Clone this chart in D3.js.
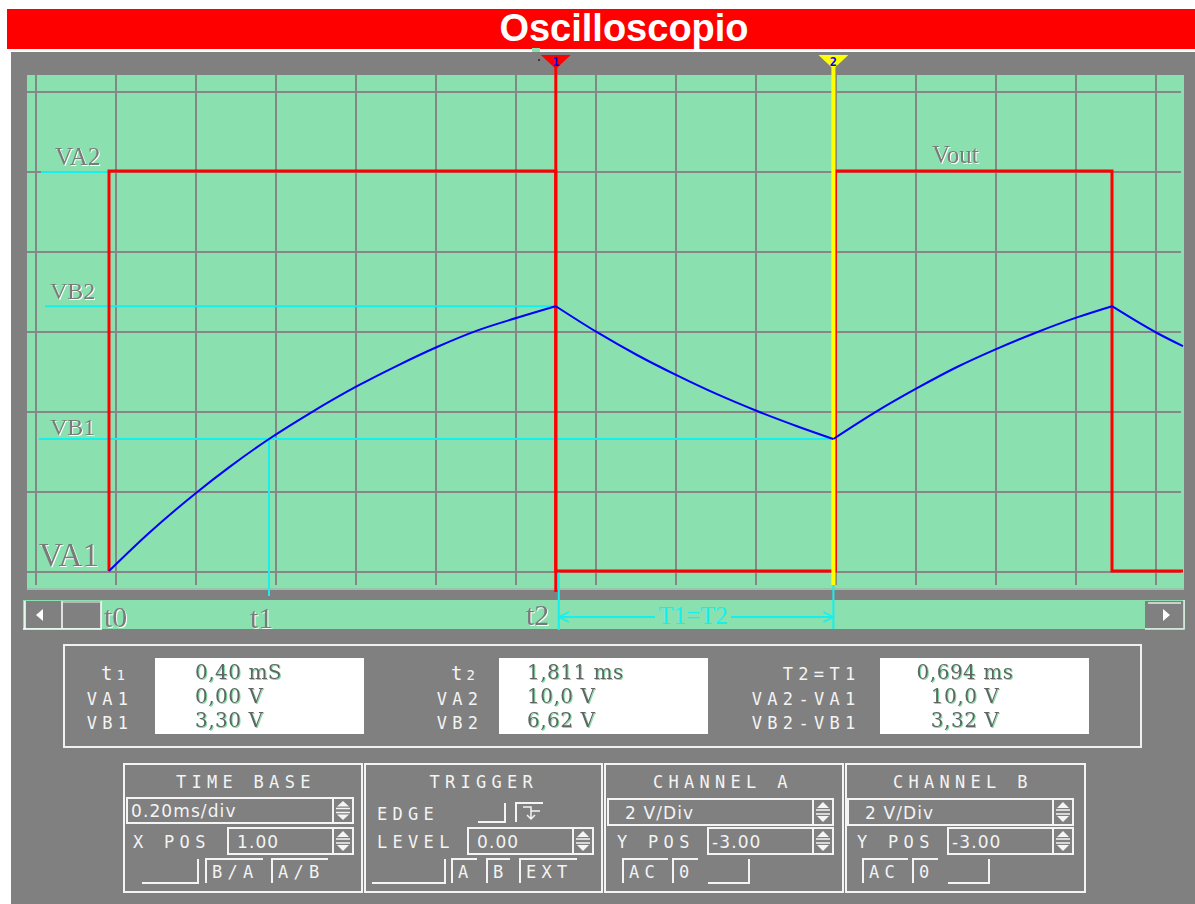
<!DOCTYPE html>
<html>
<head>
<meta charset="utf-8">
<script src="https://cdn.jsdelivr.net/npm/d3@7"></script>
<style>
  html, body { margin: 0; padding: 0; background: #ffffff; }
  svg { display: block; }
</style>
</head>
<body>
<svg id="scope" width="1195" height="904"></svg>
<script>
// ---------- measured quantities ----------
const cursorT1 = 0.40;      // ms, cursor t1
const cursorT2 = 1.811;     // ms, cursor 2 (yellow)
const halfPeriod = 0.694;   // ms, T1 = T2
const levelVA1 = 0.00, levelVA2 = 10.0;   // V, channel A levels
const levelVB1 = 3.30, levelVB2 = 6.62;   // V, channel B turning points

// Channel B (capacitor voltage) – time [ms] and volts
const chBTime = [0, 0.10, 0.22, 0.30, 0.40, 0.50, 0.62, 0.72, 0.82, 0.92, 1.02, 1.117,
                 1.22, 1.32, 1.42, 1.52, 1.62, 1.72, 1.811,
                 1.919, 2.02, 2.12, 2.225, 2.32, 2.42, 2.5075,
                 2.62, 2.685];
const chBVolt = [0, 0.95, 1.97, 2.59, 3.30, 3.93, 4.62, 5.13, 5.60, 6.01, 6.33, 6.62,
                 5.97, 5.40, 4.89, 4.42, 4.00, 3.62, 3.30,
                 3.99, 4.57, 5.10, 5.58, 5.97, 6.34, 6.62,
                 5.95, 5.62];

// Channel A (Vout square wave) – step points, time [ms] and volts
const chATime = [0, 0, 1.117, 1.816, 2.5075, 2.685];
const chAVolt = [0, 10, 0, 10, 0, 0];

// Readout panel
const readLabels1 = ["VA1", "VB1"], readValues1 = ["0,40 mS", "0,00 V", "3,30 V"];
const readLabels2 = ["VA2", "VB2"], readValues2 = ["1,811 ms", "10,0 V", "6,62 V"];
const readLabels3 = ["T2=T1", "VA2-VA1", "VB2-VB1"], readValues3 = ["0,694 ms", "10,0 V", "3,32 V"];

// Control panel settings
const timeBase = "0.20ms/div", xPos = "1.00", trigLevel = "0.00";
const chAScale = "2 V/Div", chAPos = "-3.00";
const chBScale = "2 V/Div", chBPos = "-3.00";

// ---------- colours ----------
const GREEN = "#8ae0ae", GRAY = "#808080", GRID = "#878787";
const RED = "#ff0000", BLUE = "#0000ff", CYAN = "#14f0f0", YELLOW = "#ffff00";
const LABEL = "#7a7a7a";

const svg = d3.select("#scope");

// text effects: white emboss for screen labels, green rim for readout values
const defs = svg.append("defs");
function shadowFilter(id, color, dx, dy) {
  const f = defs.append("filter").attr("id", id).attr("x", "-10%").attr("y", "-20%")
    .attr("width", "130%").attr("height", "150%");
  f.append("feOffset").attr("in", "SourceAlpha").attr("dx", dx).attr("dy", dy).attr("result", "off");
  f.append("feFlood").attr("flood-color", color).attr("result", "col");
  f.append("feComposite").attr("in", "col").attr("in2", "off").attr("operator", "in").attr("result", "sh");
  const m = f.append("feMerge");
  m.append("feMergeNode").attr("in", "sh");
  m.append("feMergeNode").attr("in", "SourceGraphic");
}
shadowFilter("embossWhite", "#ffffff", 1, 1);
shadowFilter("rimGreen", "#7fe0a8", 1.2, 1);

// ---------- scales: 0.2 ms/div and 2 V/div, 80 px per division ----------
const x = d3.scaleLinear().domain([0, 1]).range([109, 509]);
const y = d3.scaleLinear().domain([0, 10]).range([571, 171]);
const gridTimes = d3.range(15).map(k => -0.1825 + 0.2 * k);
const gridVolts = d3.range(0, 13, 2);

// ---------- frame ----------
svg.append("rect").attr("x", 7).attr("y", 9).attr("width", 1188).attr("height", 40).attr("fill", RED);
svg.append("text").attr("x", 624).attr("y", 41).attr("text-anchor", "middle")
  .attr("font-family", "Liberation Sans, Arial, sans-serif").attr("font-weight", "bold")
  .attr("font-size", 38).attr("fill", "#ffffff").text("Oscilloscopio");

svg.append("rect").attr("x", 11).attr("y", 52).attr("width", 1184).attr("height", 852).attr("fill", GRAY);

// screen
svg.append("rect").attr("x", 27).attr("y", 75).attr("width", 1157).attr("height", 515).attr("fill", GREEN);

const grid = svg.append("g").attr("stroke", GRID).attr("stroke-width", 2);
grid.selectAll("line.v").data(gridTimes).join("line").attr("class", "v")
  .attr("x1", d => x(d)).attr("x2", d => x(d)).attr("y1", 75).attr("y2", 585);
grid.selectAll("line.h").data(gridVolts).join("line").attr("class", "h")
  .attr("x1", 27).attr("x2", 1181).attr("y1", d => y(d) + 1).attr("y2", d => y(d) + 1);
svg.append("line").attr("x1", 27).attr("x2", 1184).attr("y1", 589).attr("y2", 589)
  .attr("stroke", "#a8a8a8").attr("stroke-width", 1);

// ---------- scroll strip ----------
svg.append("rect").attr("x", 23).attr("y", 600).attr("width", 1162).attr("height", 29).attr("fill", GREEN);
svg.append("rect").attr("x", 25).attr("y", 601).attr("width", 76).attr("height", 27).attr("fill", GRAY);
svg.append("rect").attr("x", 1145).attr("y", 601).attr("width", 39).attr("height", 27).attr("fill", GRAY);
const sb = svg.append("g").attr("stroke", "#ffffff").attr("stroke-width", 1.5).attr("fill", "none");
sb.append("path").attr("d", "M23,629H102M62,601V629M101,601V629M25,601V629");
sb.append("path").attr("d", "M63,602H100").attr("stroke", "#c8c8c8");
sb.append("path").attr("d", "M1145,629H1184V600M1148,603H1181").attr("stroke", "#e8e8e8");
svg.append("path").attr("d", "M36,615L43,609V621Z").attr("fill", "#ffffff");
svg.append("path").attr("d", "M1170,615L1163,609V621Z").attr("fill", "#ffffff");

// ---------- embossed screen labels ----------
function emboss(xp, yp, str, size, color) {
  svg.append("text").attr("x", xp).attr("y", yp)
    .attr("font-family", "Liberation Serif, Times New Roman, serif").attr("font-size", size)
    .attr("fill", color || LABEL).attr("filter", "url(#embossWhite)").text(str);
}

// ---------- cursor reference lines ----------
const cur1 = cursorT2 - halfPeriod;
const cy = svg.append("g").attr("stroke", CYAN).attr("stroke-width", 2).attr("fill", "none");
cy.append("line").attr("x1", 41).attr("x2", x(0) - 1).attr("y1", y(levelVA2) + 1).attr("y2", y(levelVA2) + 1);
cy.append("line").attr("x1", 45).attr("x2", x(cur1)).attr("y1", y(levelVB2)).attr("y2", y(levelVB2));
cy.append("line").attr("x1", 39).attr("x2", x(cursorT2)).attr("y1", y(levelVB1)).attr("y2", y(levelVB1));
cy.append("line").attr("x1", x(cursorT1)).attr("x2", x(cursorT1)).attr("y1", y(levelVB1)).attr("y2", 596);
cy.append("line").attr("x1", x(cur1) + 3).attr("x2", x(cur1) + 3).attr("y1", y(levelVA1)).attr("y2", 630);
cy.append("line").attr("x1", x(cursorT2)).attr("x2", x(cursorT2)).attr("y1", 585).attr("y2", 629);

// T1=T2 dimension arrow
const ay = 617, ax1 = x(cur1) + 3, ax2 = x(cursorT2);
cy.append("path").attr("d", `M${ax1},${ay}H655M731,${ay}H${ax2}`);
cy.append("path").attr("d", `M${ax1 + 10},${ay - 5}L${ax1},${ay}L${ax1 + 10},${ay + 5}`).attr("stroke-width", 1.5);
cy.append("path").attr("d", `M${ax2 - 10},${ay - 5}L${ax2},${ay}L${ax2 - 10},${ay + 5}`).attr("stroke-width", 1.5);
svg.append("text").attr("x", 693).attr("y", 624).attr("text-anchor", "middle")
  .attr("font-family", "Liberation Serif, Times New Roman, serif").attr("font-size", 25)
  .attr("fill", CYAN).text("T1=T2");

emboss(55, 165, "VA2", 25);
emboss(50, 299, "VB2", 24);
emboss(50, 435, "VB1", 24);
emboss(39, 566, "VA1", 33);
emboss(932, 163, "Vout", 25);
emboss(104, 627, "t0", 30);
emboss(250, 628, "t1", 30);
emboss(526, 625, "t2", 30);

// ---------- traces ----------
const lineA = d3.line().x(d => x(d[0])).y(d => y(d[1])).curve(d3.curveStepAfter);
svg.append("path").datum(chATime.map((t, i) => [t, chAVolt[i]]))
  .attr("d", lineA).attr("fill", "none").attr("stroke", RED).attr("stroke-width", 3);

// cursor lines
svg.append("line").attr("x1", x(cur1)).attr("x2", x(cur1)).attr("y1", 62).attr("y2", 592)
  .attr("stroke", RED).attr("stroke-width", 3);
svg.append("line").attr("x1", x(cursorT2)).attr("x2", x(cursorT2)).attr("y1", 62).attr("y2", 585)
  .attr("stroke", YELLOW).attr("stroke-width", 4);

// channel B split into charge / discharge branches so the turning points stay sharp
const ptsB = chBTime.map((t, i) => [t, chBVolt[i]]);
const branches = [];
let cur = [ptsB[0]], dir = 0;
for (let i = 1; i < ptsB.length; i++) {
  const d = Math.sign(ptsB[i][1] - ptsB[i - 1][1]);
  if (dir !== 0 && d !== dir) { branches.push(cur); cur = [ptsB[i - 1]]; }
  cur.push(ptsB[i]); dir = d;
}
branches.push(cur);
const lineB = d3.line().x(d => x(d[0])).y(d => y(d[1])).curve(d3.curveMonotoneX);
svg.append("g").selectAll("path").data(branches).join("path")
  .attr("d", lineB).attr("fill", "none").attr("stroke", BLUE).attr("stroke-width", 2);

// cursor flags
function flag(t, color, label) {
  const cx = x(t);
  svg.append("path").attr("d", `M${cx - 15},55H${cx + 15}L${cx},69Z`).attr("fill", color);
  svg.append("text").attr("x", cx).attr("y", 66).attr("text-anchor", "middle")
    .attr("font-family", "DejaVu Sans Mono, monospace").attr("font-weight", "bold")
    .attr("font-size", 12).attr("fill", BLUE).text(label);
}
flag(cur1, RED, "1");
flag(cursorT2, YELLOW, "2");
svg.append("rect").attr("x", 532).attr("y", 48).attr("width", 8).attr("height", 4).attr("fill", GREEN);
svg.append("circle").attr("cx", 539).attr("cy", 60).attr("r", 1).attr("fill", "#222");

// ---------- readout panel ----------
svg.append("rect").attr("x", 64).attr("y", 645).attr("width", 1077).attr("height", 102)
  .attr("fill", "none").attr("stroke", "#f0f0f0").attr("stroke-width", 2);
const boxes = [155, 499, 880];
svg.selectAll("rect.val").data(boxes).join("rect").attr("class", "val")
  .attr("x", d => d).attr("y", 658).attr("width", 209).attr("height", 76).attr("fill", "#ffffff");

const STEP = 15.5;
function mono(xp, yp, str, size) {
  return svg.append("text").attr("x", xp).attr("y", yp)
    .attr("font-family", "DejaVu Sans Mono, monospace").attr("font-size", size || 17)
    .attr("letter-spacing", 5.3).attr("fill", "#f4f4f4").text(str);
}
function monoRight(right, yp, str) { return mono(right - str.length * STEP + 5.3, yp, str); }

const rowY = [680, 705, 729];
function tLabel(right, digit) {
  const t = svg.append("text").attr("y", rowY[0]).attr("x", right - 27)
    .attr("font-family", "DejaVu Sans Mono, monospace").attr("fill", "#f4f4f4");
  t.append("tspan").attr("font-size", 19).text("t");
  t.append("tspan").attr("dx", 4).attr("font-size", 14).text(digit);
}
tLabel(128, "1");
readLabels1.forEach((s, i) => monoRight(128, rowY[i + 1], s));
tLabel(478, "2");
readLabels2.forEach((s, i) => monoRight(478, rowY[i + 1], s));
readLabels3.forEach((s, i) => monoRight(855, rowY[i], s));

// readout values, three lines per box
const valY = [679, 703, 727];
function valueBlock(xp, values, anchor) {
  values.forEach((s, i) => svg.append("text").attr("x", xp).attr("y", valY[i])
    .attr("font-family", "DejaVu Serif, Liberation Serif, serif").attr("font-size", 20)
    .attr("letter-spacing", 0.5).attr("text-anchor", anchor || "start")
    .attr("fill", "#646464").attr("filter", "url(#rimGreen)").text(s));
}
valueBlock(195, readValues1);
valueBlock(527, readValues2);
valueBlock(965, readValues3, "middle");

// ---------- control panel ----------
const W = "#f4f4f4";
const ctl = svg.append("g").attr("stroke", W).attr("stroke-width", 2).attr("fill", "none");
[[124, 238], [365, 237], [605, 238], [846, 239]].forEach(([bx, bw]) =>
  ctl.append("rect").attr("x", bx).attr("y", 764).attr("width", bw).attr("height", 128));

function input(x0, x1, y0, h, str, pad) {
  ctl.append("rect").attr("x", x0).attr("y", y0).attr("width", x1 - x0).attr("height", h);
  svg.append("text").attr("x", x0 + (pad || 4)).attr("y", y0 + h - 6)
    .attr("font-family", "DejaVu Sans, Verdana, sans-serif").attr("font-size", 17)
    .attr("letter-spacing", 1.1).attr("fill", W).text(str);
  // spinner
  const sx = x1, m = y0 + h / 2;
  ctl.append("rect").attr("x", sx).attr("y", y0).attr("width", 20).attr("height", h);
  ctl.append("line").attr("x1", sx + 3).attr("x2", sx + 17).attr("y1", m - 2).attr("y2", m - 2).attr("stroke-width", 1.5);
  ctl.append("line").attr("x1", sx + 3).attr("x2", sx + 17).attr("y1", m + 2).attr("y2", m + 2).attr("stroke-width", 1.5);
  svg.append("path").attr("d", `M${sx + 10},${y0 + 3}L${sx + 16},${m - 4}H${sx + 4}Z`).attr("fill", W);
  svg.append("path").attr("d", `M${sx + 10},${y0 + h - 3}L${sx + 16},${m + 4}H${sx + 4}Z`).attr("fill", W);
}
function centered(cx, yp, str) { return mono(cx - (str.length * STEP - 5.3) / 2, yp, str); }
function btnOpen(x0, x1, label) {   // raised button: left and top edges
  ctl.append("path").attr("d", `M${x0},883V859H${x1}`);
  mono(x0 + 6, 878, label);
}
function btnSunk(x0, x1) {          // pressed button: bottom and right edges
  ctl.append("path").attr("d", `M${x0},883H${x1}V859`);
}

// time base
centered(243, 788, "TIME BASE");
input(127, 333, 798, 25, timeBase);
mono(133, 848, "X POS");
input(228, 333, 828, 26, xPos, 9);
btnSunk(142, 198);
btnOpen(206, 263, "B/A");
btnOpen(272, 328, "A/B");

// trigger
centered(481, 788, "TRIGGER");
mono(377, 820, "EDGE");
ctl.append("path").attr("d", "M478,822H505V803");
ctl.append("path").attr("d", "M516,822V803H543");
ctl.append("path").attr("d", "M523,807H531V818M531,811H540M527,815L531,819L535,815").attr("stroke-width", 1.5);
mono(377, 848, "LEVEL");
input(468, 573, 828, 26, trigLevel, 9);
btnSunk(372, 445);
btnOpen(452, 477, "A");
btnOpen(487, 510, "B");
btnOpen(520, 577, "EXT");

// channels
function channel(off, name, scaleStr, posStr) {
  centered(720 + off, 788, name);
  input(608 + off, 813 + off, 799, 26, scaleStr, 17);
  mono(617 + off, 848, "Y POS");
  input(708 + off, 813 + off, 828, 26, posStr);
  btnOpen(623 + off, 668 + off, "AC");
  btnOpen(673 + off, 698 + off, "0");
  btnSunk(708 + off, 749 + off);
}
channel(0, "CHANNEL A", chAScale, chAPos);
channel(240, "CHANNEL B", chBScale, chBPos);
</script>
</body>
</html>
